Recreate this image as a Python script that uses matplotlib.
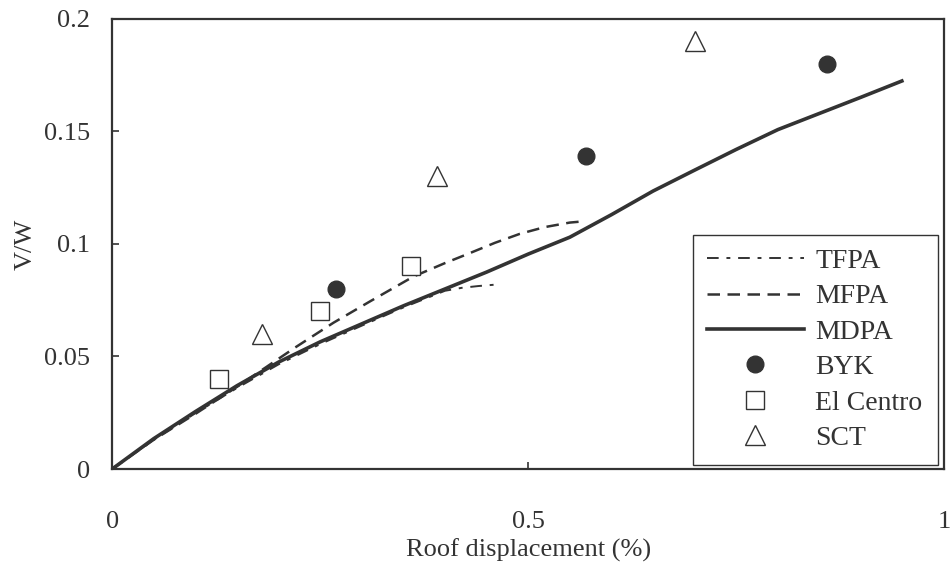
import matplotlib
matplotlib.use("Agg")
import matplotlib.pyplot as plt

# analysis curves (roof displacement %, V/W)
mdpa_x = [0.0, 0.05, 0.1, 0.15, 0.2, 0.25, 0.3, 0.35, 0.4, 0.45, 0.5, 0.55, 0.6,
          0.65, 0.7, 0.75, 0.8, 0.85, 0.9, 0.949]
mdpa_y = [0.0, 0.0135, 0.0255, 0.037, 0.0475, 0.0565, 0.0645, 0.0725, 0.080, 0.0875,
          0.0955, 0.103, 0.113, 0.1235, 0.1328, 0.142, 0.1508, 0.158, 0.1652, 0.1724]

tfpa_x = [0.0, 0.05, 0.1, 0.15, 0.2, 0.25, 0.3, 0.35, 0.4, 0.42, 0.44, 0.463]
tfpa_y = [0.0, 0.013, 0.0248, 0.036, 0.0465, 0.0555, 0.0637, 0.0718, 0.0792, 0.0805, 0.0813, 0.082]

mfpa_x = [0.0, 0.05, 0.1, 0.15, 0.186, 0.22, 0.266, 0.31, 0.362, 0.40, 0.427, 0.46,
          0.49, 0.52, 0.55, 0.565]
mfpa_y = [0.0, 0.013, 0.0245, 0.0365, 0.0455, 0.054, 0.065, 0.0745, 0.0855, 0.0915,
          0.0955, 0.1005, 0.1045, 0.1075, 0.1095, 0.110]

# test results
byk_x = [0.269, 0.569, 0.859]
byk_y = [0.080, 0.139, 0.180]
elc_x = [0.129, 0.250, 0.359]
elc_y = [0.040, 0.070, 0.090]
sct_x = [0.180, 0.390, 0.700]
sct_y = [0.060, 0.130, 0.190]

ink = "#333333"
plt.rcParams['font.family'] = ['Liberation Serif', 'DejaVu Serif']
fs = 19

fig = plt.figure(figsize=(9.5, 5.72), dpi=100)
ax = fig.add_axes([0.118, 0.18, 0.876, 0.787])

ax.plot(tfpa_x, tfpa_y, color=ink, lw=1.4, dashes=(6, 4, 2, 4), label="TFPA")
ax.plot(mfpa_x, mfpa_y, color=ink, lw=1.8, dashes=(5, 3), label="MFPA")
ax.plot(mdpa_x, mdpa_y, color=ink, lw=2.6, label="MDPA")
ax.plot(byk_x, byk_y, 'o', color=ink, ms=12, mec=ink, label="BYK", ls='none')
ax.plot(elc_x, elc_y, 's', mfc='white', mec=ink, mew=1.0, ms=13, label="El Centro", ls='none')
ax.plot(sct_x, sct_y, '^', mfc='white', mec=ink, mew=1.0, ms=14, label="SCT", ls='none')

ax.set_xlim(0, 1)
ax.set_ylim(0, 0.2)
ax.set_xticks([0, 0.5, 1])
ax.set_xticklabels(["0", "0.5", "1"])
ax.set_yticks([0, 0.05, 0.1, 0.15, 0.2])
ax.set_yticklabels(["0", "0.05", "0.1", "0.15", "0.2"])
ax.tick_params(direction='in', length=5, width=1.2, colors=ink, labelsize=fs)
ax.tick_params(axis='x', pad=30)
ax.tick_params(axis='y', pad=16)
for s in ax.spines.values():
    s.set_color(ink)
    s.set_linewidth(1.6)

ax.set_xlabel("Roof displacement (%)", fontsize=fs, color=ink, labelpad=4)
ax.set_ylabel("V/W", fontsize=fs, color=ink, labelpad=5)

leg_el = ax.legend(loc='lower left', bbox_to_anchor=(0.698, 0.009, 0.294, 0.518), mode='expand',
                   fancybox=False, edgecolor=ink, framealpha=1, fontsize=20,
                   handlelength=3.5, labelspacing=0.36, borderpad=0.5, handletextpad=0.4,
                   borderaxespad=0)
leg_el.get_frame().set_linewidth(1.0)
for t in leg_el.get_texts():
    t.set_color(ink)

fig.savefig("out.png", dpi=100)
